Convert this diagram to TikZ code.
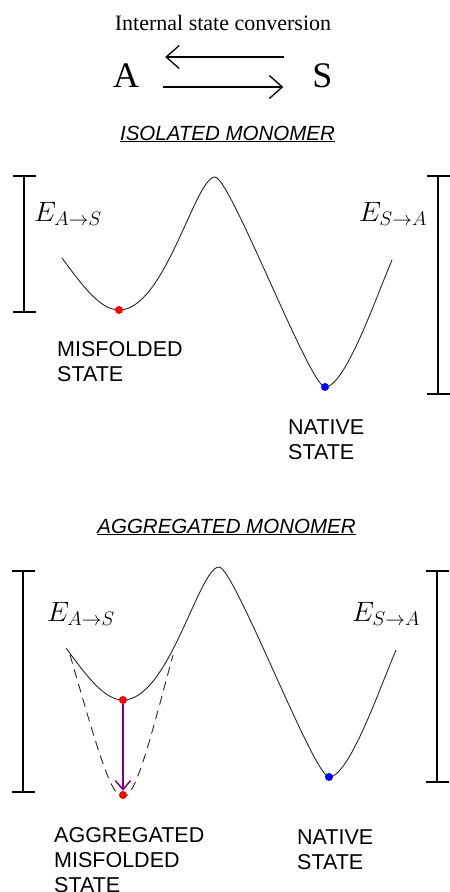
\RequirePackage{fix-cm}
\documentclass[tikz,border=0pt]{standalone}
\usepackage{fontspec}
\setmainfont{Liberation Serif}
\setsansfont{Liberation Sans}
\usepackage{tikz}
\usetikzlibrary{arrows.meta}

\definecolor{sinkviolet}{RGB}{128,0,128}

\begin{document}
\begin{tikzpicture}[
  x=1pt, y=-1pt,
  curve/.style={draw=black!85, line width=0.9pt},
  bracket/.style={line width=2pt, {Bar[width=23pt]}-{Bar[width=23pt]}},
  conv/.style={line width=1.3pt, -{Straight Barb[length=13pt,width=23pt]}},
  sink/.style={line width=1.5pt, sinkviolet, -{Straight Barb[length=9pt,width=15pt]}},
  dot/.style={circle, inner sep=0pt, minimum size=8pt},
  energy/.style={inner sep=0pt, anchor=base west, font=\fontsize{28}{32}\selectfont},
  statelabel/.style={inner sep=0pt, anchor=base west, align=left, font=\sffamily\fontsize{21.5}{25}\selectfont},
  heading/.style={inner sep=0pt, anchor=base, font=\sffamily\itshape\fontsize{20.5}{24}\selectfont},
  well/.pic={
    \draw[curve] (62,258) .. controls (82,285) and (100,310) .. (119,310)
      .. controls (165,310) and (195,177) .. (215,177)
      .. controls (230,177) and (310,387) .. (325,387)
      .. controls (345,387) and (375,300) .. (392,260);
  }
]
\useasboundingbox (0,0) rectangle (450,892);

% Conversion scheme
\node (title) [inner sep=0pt, anchor=base, font=\fontsize{22}{26}\selectfont] at (223,30) {Internal state conversion};
\node (A) [inner sep=0pt, anchor=base, font=\fontsize{36}{40}\selectfont] at (126,87) {A};
\node (S) [inner sep=0pt, anchor=base, font=\fontsize{36}{40}\selectfont] at (322.5,87) {S};
\draw [conv] ([xshift=-28pt,yshift=30pt]S.base west) -- ([xshift=26pt,yshift=30pt]A.base east);
\draw [conv] ([xshift=24pt]A.base east) -- ([xshift=-29pt]S.base west);

% Isolated monomer
\node (isohead) [heading] at (227.5,140) {\underline{ISOLATED MONOMER}};
\pic at (0,0) {well};
\draw [bracket] (24,175) -- (24,313);
\draw [bracket] (438,175) -- (438,395);
\node (isoEas) [energy] at (34,221) {$E_{A\rightarrow S}$};
\node (isoEsa) [energy] at (359,221) {$E_{S\rightarrow A}$};
\node (isomis) [dot, fill=red] at (119,310) {};
\node (isonat) [dot, fill=blue] at (325,387) {};
% base of a multi-line node is its last line
\node (misfolded) [statelabel] at (57,381) {MISFOLDED\\STATE};
\node (native) [statelabel] at (288,459) {NATIVE\\STATE};

% Aggregated monomer
\node (agghead) [heading] at (226.5,533) {\underline{AGGREGATED MONOMER}};
\pic at (4,390) {well};
\draw [curve, dash pattern=on 9pt off 6pt] (70,655) .. controls (95,740) and (110,797) .. (123,797)
  .. controls (136,797) and (150,740) .. (173,655);
\draw [bracket] (23,570) -- (23,793);
\draw [bracket] (437,570) -- (437,783);
\node (aggEas) [energy] at (47,621) {$E_{A\rightarrow S}$};
\node (aggEsa) [energy] at (352,621) {$E_{S\rightarrow A}$};
\node (aggmis) [dot, fill=red] at (123,700) {};
\node (aggbot) [dot, fill=red] at (123,795) {};
\node (aggnat) [dot, fill=blue] at (329,777) {};
\draw [sink] (aggmis) -- (aggbot);
\node (aggregated) [statelabel] at (54,892) {AGGREGATED\\MISFOLDED\\STATE};
\node (native2) [statelabel] at (297,869) {NATIVE\\STATE};

\end{tikzpicture}
\end{document}
